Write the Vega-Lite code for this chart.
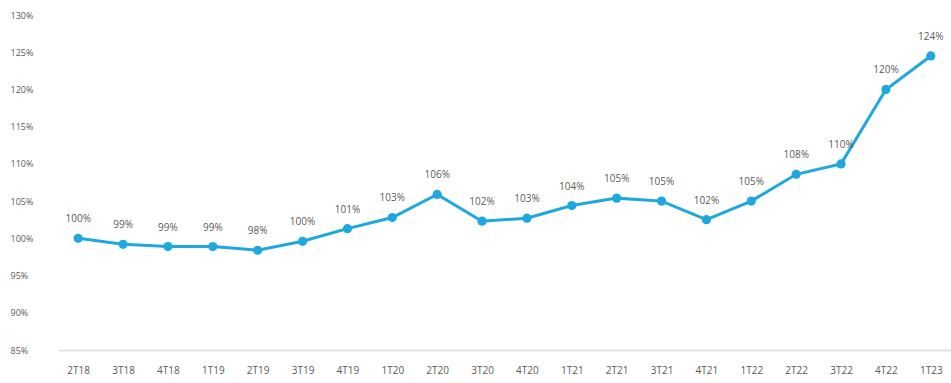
{
  "$schema": "https://vega.github.io/schema/vega-lite/v6.json",
  "autosize": {"type": "none"},
  "width": 893,
  "height": 335,
  "padding": {"left": 58, "top": 15, "right": 0, "bottom": 33},
  "background": "#ffffff",
  "config": {
    "view": {"stroke": null},
    "font": "Open Sans"
  },
  "data": {
    "values": [
      {"q": "2T18", "v": 100.0, "label": "100%"},
      {"q": "3T18", "v": 99.2, "label": "99%"},
      {"q": "4T18", "v": 98.9, "label": "99%"},
      {"q": "1T19", "v": 98.9, "label": "99%"},
      {"q": "2T19", "v": 98.4, "label": "98%"},
      {"q": "3T19", "v": 99.6, "label": "100%"},
      {"q": "4T19", "v": 101.3, "label": "101%"},
      {"q": "1T20", "v": 102.8, "label": "103%"},
      {"q": "2T20", "v": 105.9, "label": "106%"},
      {"q": "3T20", "v": 102.3, "label": "102%"},
      {"q": "4T20", "v": 102.7, "label": "103%"},
      {"q": "1T21", "v": 104.4, "label": "104%"},
      {"q": "2T21", "v": 105.4, "label": "105%"},
      {"q": "3T21", "v": 105.0, "label": "105%"},
      {"q": "4T21", "v": 102.5, "label": "102%"},
      {"q": "1T22", "v": 105.0, "label": "105%"},
      {"q": "2T22", "v": 108.6, "label": "108%"},
      {"q": "3T22", "v": 110.0, "label": "110%"},
      {"q": "4T22", "v": 120.0, "label": "120%"},
      {"q": "1T23", "v": 124.5, "label": "124%"}
    ]
  },
  "encoding": {
    "x": {
      "field": "q",
      "type": "ordinal",
      "sort": null,
      "scale": {"type": "point", "padding": 0.45},
      "axis": {
        "title": null,
        "labelAngle": 0,
        "labelColor": "#5a5a5a",
        "labelFontSize": 10,
        "labelPadding": 15,
        "ticks": false,
        "domainColor": "#e3e3e3",
        "domainWidth": 2,
        "grid": false
      }
    },
    "y": {
      "field": "v",
      "type": "quantitative",
      "scale": {"domain": [85, 130], "nice": false, "zero": false},
      "axis": {
        "title": null,
        "values": [85, 90, 95, 100, 105, 110, 115, 120, 125, 130],
        "labelExpr": "datum.value + '%'",
        "labelAlign": "left",
        "labelPadding": 48,
        "labelColor": "#5a5a5a",
        "labelFontSize": 9,
        "ticks": false,
        "domain": false,
        "grid": false
      }
    }
  },
  "layer": [
    {
      "mark": {"type": "line", "color": "#1fa8dd", "strokeWidth": 3, "interpolate": "linear"}
    },
    {
      "mark": {"type": "point", "filled": true, "color": "#1fa8dd", "size": 85, "opacity": 1}
    },
    {
      "mark": {"type": "text", "dy": -19, "fontSize": 10, "color": "#5a5a5a"},
      "encoding": {"text": {"field": "label"}}
    }
  ]
}
